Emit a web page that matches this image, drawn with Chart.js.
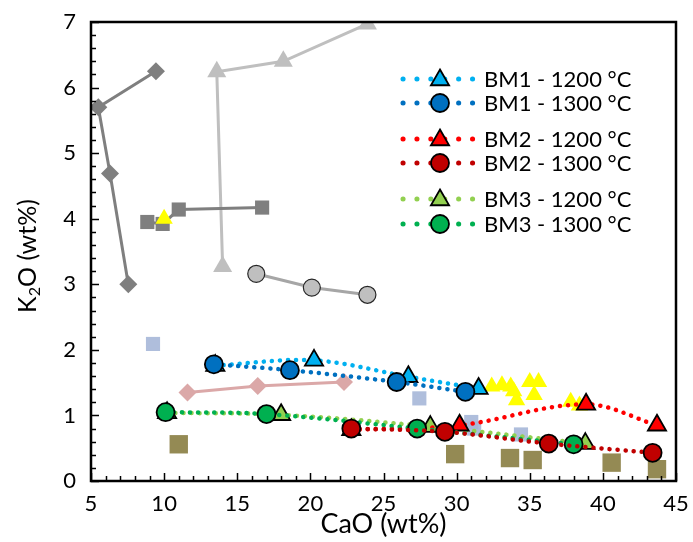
<!DOCTYPE html>
<html>
<head>
<meta charset="utf-8">
<script src="https://cdn.jsdelivr.net/npm/chart.js@4/dist/chart.umd.min.js"></script>
<style>
  html, body { margin: 0; padding: 0; background: #fff; }
  #wrap { width: 693px; height: 542px; }
</style>
</head>
<body>
<div id="wrap"><canvas id="k2oChart"></canvas></div>
<script>
// DATA  (x = CaO wt%, y = K2O wt%)
const bm1_1200_x = [13.5, 20.25, 26.7, 31.5];
const bm1_1200_y = [1.76, 1.84, 1.59, 1.41];
const bm1_1300_x = [13.4, 18.6, 25.9, 30.6];
const bm1_1300_y = [1.78, 1.69, 1.51, 1.36];
const bm2_1200_x = [22.8, 30.2, 38.85, 43.7];
const bm2_1200_y = [0.78, 0.85, 1.17, 0.85];
const bm2_1300_x = [22.8, 29.2, 36.3, 43.4];
const bm2_1300_y = [0.80, 0.75, 0.57, 0.43];
const bm3_1200_x = [10.2, 18.0, 28.2, 38.8];
const bm3_1200_y = [1.04, 1.01, 0.83, 0.57];
const bm3_1300_x = [10.1, 17.0, 27.3, 38.0];
const bm3_1300_y = [1.05, 1.02, 0.80, 0.56];

// reference data sets
const grayDiamond_x = [9.44, 5.5, 6.3, 7.55];
const grayDiamond_y = [6.25, 5.70, 4.69, 3.00];
const graySquare_x = [8.85, 9.9, 11.0, 16.7];
const graySquare_y = [3.95, 3.92, 4.14, 4.17];
const lightTri_x = [14.0, 13.6, 18.15, 23.9];
const lightTri_y = [3.27, 6.24, 6.40, 6.97];
const grayCircle_x = [16.3, 20.1, 23.9];
const grayCircle_y = [3.16, 2.95, 2.84];
const pinkDiamond_x = [11.6, 16.4, 22.3];
const pinkDiamond_y = [1.35, 1.45, 1.51];
const blueSquare_x = [9.24, 27.45, 31.0, 31.2, 34.4];
const blueSquare_y = [2.09, 1.26, 0.90, 0.80, 0.71];
const oliveSquare_x = [11.0, 29.9, 33.65, 35.2, 40.6, 43.7];
const oliveSquare_y = [0.56, 0.41, 0.35, 0.32, 0.28, 0.18];
const yellowTri_x = [10.0, 32.4, 33.1, 33.7, 33.9, 34.1, 35.0, 35.6, 35.3, 37.8, 38.4];
const yellowTri_y = [4.00, 1.44, 1.46, 1.44, 1.37, 1.23, 1.51, 1.51, 1.31, 1.21, 1.15];

const xTicks = [5, 10, 15, 20, 25, 30, 35, 40, 45];
const yTicks = [0, 1, 2, 3, 4, 5, 6, 7];

const pts = (xs, ys) => xs.map((x, i) => ({ x: x, y: ys[i] }));

function dotted(label, xs, ys, color, style, order) {
  return {
    label: label,
    data: pts(xs, ys),
    showLine: true,
    borderColor: color,
    borderWidth: 4.5,
    borderDash: [0.1, 8],
    borderCapStyle: "round",
    tension: 0.35,
    pointStyle: style,
    pointRadius: style === "circle" ? 9 : 10.5,
    pointBackgroundColor: color,
    pointBorderColor: "#000",
    pointBorderWidth: 1.8,
    order: order,
    inLegend: true
  };
}

function plain(xs, ys, opts) {
  return Object.assign({
    data: pts(xs, ys),
    showLine: false,
    borderWidth: 0,
    pointBorderWidth: 0,
    order: 6
  }, opts);
}

const datasets = [
  dotted("BM1 - 1200 °C", bm1_1200_x, bm1_1200_y, "#00b0f0", "triangle", 2),
  dotted("BM1 - 1300 °C", bm1_1300_x, bm1_1300_y, "#0070c0", "circle", 1),
  dotted("BM2 - 1200 °C", bm2_1200_x, bm2_1200_y, "#ff0000", "triangle", 2),
  dotted("BM2 - 1300 °C", bm2_1300_x, bm2_1300_y, "#c00000", "circle", 1),
  dotted("BM3 - 1200 °C", bm3_1200_x, bm3_1200_y, "#92d050", "triangle", 2),
  dotted("BM3 - 1300 °C", bm3_1300_x, bm3_1300_y, "#00b050", "circle", 1),
  plain(yellowTri_x, yellowTri_y, { pointStyle: "triangle", pointRadius: 10, pointBackgroundColor: "#ffff00", order: 3 }),
  plain(blueSquare_x, blueSquare_y, { pointStyle: "rect", pointRadius: 10, pointBackgroundColor: "rgba(166,183,216,0.9)", order: 4 }),
  plain(oliveSquare_x, oliveSquare_y, { pointStyle: "rect", pointRadius: 13, pointBackgroundColor: "#948a54", order: 5 }),
  plain(grayDiamond_x, grayDiamond_y, { showLine: true, borderColor: "#7f7f7f", borderWidth: 3, pointStyle: "rectRot", pointRadius: 9, pointBackgroundColor: "#7f7f7f" }),
  plain(graySquare_x, graySquare_y, { showLine: true, borderColor: "#7f7f7f", borderWidth: 3, pointStyle: "rect", pointRadius: 10, pointBackgroundColor: "#7f7f7f" }),
  plain(lightTri_x, lightTri_y, { showLine: true, borderColor: "#bfbfbf", borderWidth: 3, pointStyle: "triangle", pointRadius: 11, pointBackgroundColor: "#bfbfbf" }),
  plain(grayCircle_x, grayCircle_y, { showLine: true, borderColor: "#a6a6a6", borderWidth: 3, pointStyle: "circle", pointRadius: 8.5, pointBackgroundColor: "#bfbfbf", pointBorderColor: "#262626", pointBorderWidth: 1.2 }),
  plain(pinkDiamond_x, pinkDiamond_y, { showLine: true, borderColor: "#dba8a8", borderWidth: 3, pointStyle: "rectRot", pointRadius: 9, pointBackgroundColor: "#dba8a8" })
];

const FONT = "Lato, 'Open Sans', sans-serif";

// frame, inward ticks, y title and the grouped legend
const decorations = {
  id: "decorations",
  afterDraw(chart) {
    const ctx = chart.ctx;
    const a = chart.chartArea;
    const xs = chart.scales.x, ys = chart.scales.y;
    ctx.save();
    ctx.strokeStyle = "#000";
    ctx.lineWidth = 1.5;
    ctx.beginPath();
    for (let v = 5; v <= 45; v++) {
      const px = Math.round(xs.getPixelForValue(v)) + 0.5;
      const len = v % 5 === 0 ? 8 : 5;
      ctx.moveTo(px, a.bottom);
      ctx.lineTo(px, a.bottom - len);
    }
    for (let i = 0; i <= 35; i++) {
      const py = Math.round(ys.getPixelForValue(i / 5)) + 0.5;
      const len = i % 5 === 0 ? 8 : 5;
      ctx.moveTo(a.left, py);
      ctx.lineTo(a.left + len, py);
    }
    ctx.stroke();
    ctx.lineWidth = 2.5;
    ctx.strokeRect(a.left, a.top, a.right - a.left, a.bottom - a.top);

    // y axis title with subscript
    ctx.translate(27, 256);
    ctx.rotate(-Math.PI / 2);
    ctx.fillStyle = "#000";
    ctx.textBaseline = "alphabetic";
    const big = "25px " + FONT, small = "16px " + FONT;
    ctx.font = big;
    const wK = ctx.measureText("K").width;
    const wRest = ctx.measureText("O (wt%)").width;
    ctx.font = small;
    const w2 = ctx.measureText("2").width;
    let x0 = -(wK + w2 + wRest) / 2;
    ctx.font = big;
    ctx.fillText("K", x0, 9);
    ctx.font = small;
    ctx.fillText("2", x0 + wK, 13);
    ctx.font = big;
    ctx.fillText("O (wt%)", x0 + wK + w2, 9);
    ctx.restore();

    // legend
    const rows = [79, 103, 139, 163, 199, 224];
    let r = 0;
    chart.data.datasets.forEach(ds => {
      if (!ds.inLegend) return;
      const y = rows[r++];
      ctx.save();
      ctx.strokeStyle = ds.borderColor;
      ctx.lineWidth = 5;
      ctx.lineCap = "round";
      ctx.setLineDash([0.1, 13.8]);
      ctx.beginPath();
      ctx.moveTo(403, y);
      ctx.lineTo(477, y);
      ctx.stroke();
      ctx.setLineDash([]);
      ctx.fillStyle = ds.pointBackgroundColor;
      ctx.strokeStyle = "#000";
      ctx.lineWidth = 1.8;
      Chart.helpers.drawPoint(ctx, {
        pointStyle: ds.pointStyle, rotation: 0,
        radius: ds.pointRadius, borderWidth: 1.8
      }, 440, y + (ds.pointStyle === "triangle" ? 1 : 0));
      ctx.fillStyle = "#000";
      ctx.font = "22px " + FONT;
      ctx.textBaseline = "middle";
      ctx.textAlign = "left";
      ctx.fillText(ds.label, 484, y + 1);
      ctx.restore();
    });
  }
};

new Chart(document.getElementById("k2oChart"), {
  type: "scatter",
  data: { datasets: datasets },
  options: {
    responsive: true,
    maintainAspectRatio: false,
    animation: false,
    layout: { padding: { top: 22, right: 17, left: 0, bottom: 0 } },
    plugins: {
      legend: { display: false },
      tooltip: { enabled: false }
    },
    scales: {
      x: {
        type: "linear",
        min: 5, max: 45,
        afterBuildTicks: s => { s.ticks = xTicks.map(v => ({ value: v })); },
        afterFit: s => { s.height = 61; },
        grid: { display: false },
        border: { display: false },
        ticks: { color: "#000", font: { family: FONT, size: 22 }, padding: 2, maxRotation: 0 },
        title: { display: true, text: "CaO (wt%)", color: "#000", font: { family: FONT, size: 27, lineHeight: 1 }, padding: { top: 0 } }
      },
      y: {
        type: "linear",
        min: 0, max: 7,
        afterBuildTicks: s => { s.ticks = yTicks.map(v => ({ value: v })); },
        afterFit: s => { s.width = 91; },
        grid: { display: false },
        border: { display: false },
        ticks: { color: "#000", font: { family: FONT, size: 22 }, padding: 7 }
      }
    }
  },
  plugins: [decorations]
});
</script>
</body>
</html>
